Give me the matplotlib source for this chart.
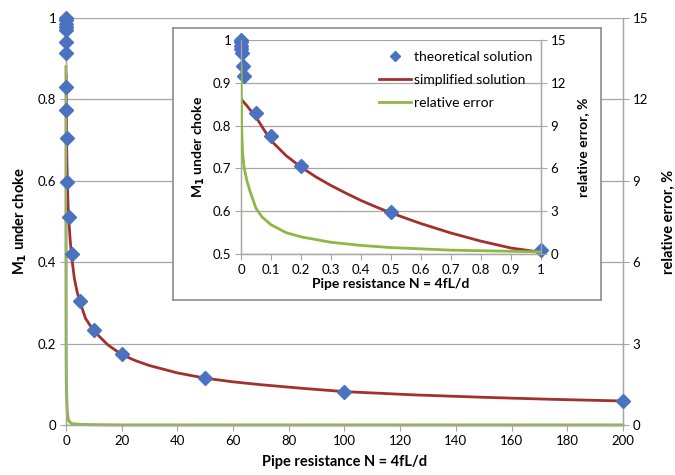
import numpy as np
import matplotlib
matplotlib.use("Agg")
import matplotlib.pyplot as plt

plt.rcParams["font.family"] = ["Lato", "DejaVu Sans"]

# ===============================
# Data
# ===============================
# theoretical solution (markers)
n_theory = [0, 0.0001, 0.0005, 0.001, 0.002, 0.005, 0.01, 0.05, 0.1, 0.2, 0.5, 1,
            2, 5, 10, 20, 50, 100, 200]
m_theory = [1.0, 0.995, 0.985, 0.978, 0.97, 0.94, 0.915, 0.83, 0.775, 0.705, 0.598, 0.51,
            0.42, 0.305, 0.233, 0.174, 0.115, 0.082, 0.06]

# simplified solution (line)
n_simple = [0.003, 0.02, 0.05, 0.075, 0.1, 0.15, 0.2, 0.25, 0.3, 0.35, 0.4, 0.45, 0.5,
            0.6, 0.7, 0.8, 0.9, 1, 1.5, 2, 3, 4, 5, 7, 10, 15, 20, 25, 30, 40, 50, 60,
            70, 85, 100, 125, 150, 175, 200]
m_simple = [0.86, 0.846, 0.82, 0.792, 0.765, 0.73, 0.703, 0.68, 0.66, 0.642, 0.625, 0.61,
            0.596, 0.571, 0.549, 0.53, 0.514, 0.504, 0.455, 0.415, 0.36, 0.327, 0.303,
            0.262, 0.231, 0.197, 0.173, 0.158, 0.146, 0.128, 0.115, 0.106, 0.099, 0.09,
            0.082, 0.074, 0.068, 0.063, 0.059]

# relative error, %
n_err = [0, 0.002, 0.005, 0.01, 0.02, 0.03, 0.05, 0.07, 0.1, 0.15, 0.2, 0.3, 0.4, 0.5,
         0.7, 1, 2, 5, 10, 20, 50, 100, 200]
err = [13.2, 9.0, 7.2, 6.1, 5.1, 4.4, 3.2, 2.6, 2.05, 1.5, 1.2, 0.82, 0.6, 0.45,
       0.27, 0.15, 0.05, 0.02, 0.01, 0.0, 0.0, 0.0, 0.0]

BLUE = "#4A72C0"
RED = "#A1302E"
GREEN = "#8DB842"
GRID = "#A6A6A6"


def style(ax, twin, fs):
    ax.spines["top"].set_visible(False)
    twin.spines["top"].set_visible(False)
    for a in (ax, twin):
        for s in a.spines.values():
            s.set_color(GRID)
            s.set_linewidth(0.9)
        a.tick_params(direction="out", length=4, color=GRID, labelsize=fs, pad=3)
    ax.grid(axis="y", color=GRID, linewidth=0.9)
    ax.set_axisbelow(True)


fig = plt.figure(figsize=(6.75, 4.75), dpi=100)

# ---- main chart
ax = fig.add_axes([66/675, 1-425/475, (623-66)/675, (425-18)/475])
ax2 = ax.twinx()
style(ax, ax2, 9.5)
ax.plot(n_simple, m_simple, color=RED, lw=2, zorder=2)
ax.plot(n_theory, m_theory, "D", color=BLUE, ms=7, zorder=4, clip_on=False)
ax2.plot(n_err, err, color=GREEN, lw=2.2, zorder=3, clip_on=False)
ax.set_xlim(0, 200)
ax.set_ylim(0, 1)
ax2.set_ylim(0, 15)
ax.set_xticks(np.arange(0, 201, 20))
ax.set_yticks([0, 0.2, 0.4, 0.6, 0.8, 1])
ax.set_yticklabels(["0", "0.2", "0.4", "0.6", "0.8", "1"])
ax2.set_yticks(np.arange(0, 16, 3))
ax.set_zorder(1)
ax.patch.set_visible(False)
ax.set_xlabel("Pipe resistance N = 4fL/d", fontsize=10.5, fontweight="bold", labelpad=6)
ax.set_ylabel("M$_\\mathbf{1}$ under choke", fontsize=10.5, fontweight="bold", labelpad=6)
ax2.set_ylabel("relative error, %", fontsize=10.5, fontweight="bold", labelpad=10)

# ---- inset frame
frame = fig.add_axes([173/675, 1-300/475, (601-173)/675, (300-28)/475])
frame.set_xticks([])
frame.set_yticks([])
frame.set_zorder(5)
for s in frame.spines.values():
    s.set_color("#8C8C8C")
    s.set_linewidth(1.2)

# ---- inset chart
ins = fig.add_axes([241/675, 1-254/475, (541-241)/675, (254-40)/475])
ins2 = ins.twinx()
ins.set_zorder(6)
ins2.set_zorder(7)
ins.patch.set_facecolor("white")
ins2.patch.set_visible(False)
style(ins, ins2, 9.5)
l1, = ins.plot(n_simple, m_simple, color=RED, lw=2, zorder=2)
p1, = ins.plot(n_theory, m_theory, "D", color=BLUE, ms=7, zorder=4, clip_on=False)
l2, = ins2.plot(n_err, err, color=GREEN, lw=2, zorder=3)
ins.set_xlim(0, 1)
ins.set_ylim(0.5, 1)
ins2.set_ylim(0, 15)
ins.set_xticks(np.arange(0, 1.01, 0.1))
ins.set_xticklabels(["0"] + [f"{v:.1f}" for v in np.arange(0.1, 0.95, 0.1)] + ["1"])
ins.set_yticks(np.arange(0.5, 1.01, 0.1))
ins.set_yticklabels(["0.5", "0.6", "0.7", "0.8", "0.9", "1"])
ins2.set_yticks(np.arange(0, 16, 3))
ins.set_xlabel("Pipe resistance N = 4fL/d", fontsize=10, fontweight="bold", labelpad=2)
ins.set_ylabel("M$_\\mathbf{1}$ under choke", fontsize=10, fontweight="bold", labelpad=4)
ins2.set_ylabel("relative error, %", fontsize=10, fontweight="bold", labelpad=8)

leg = ins2.legend([p1, l1, l2], ["theoretical solution", "simplified solution", "relative error"],
                  loc="upper left", bbox_to_anchor=(379/675, 1-51/475),
                  bbox_transform=fig.transFigure, frameon=False, fontsize=10,
                  handlelength=2.3, handletextpad=0.2, labelspacing=0.78,
                  borderaxespad=0, borderpad=0, markerscale=0.75)

fig.savefig("out.png", dpi=100)
